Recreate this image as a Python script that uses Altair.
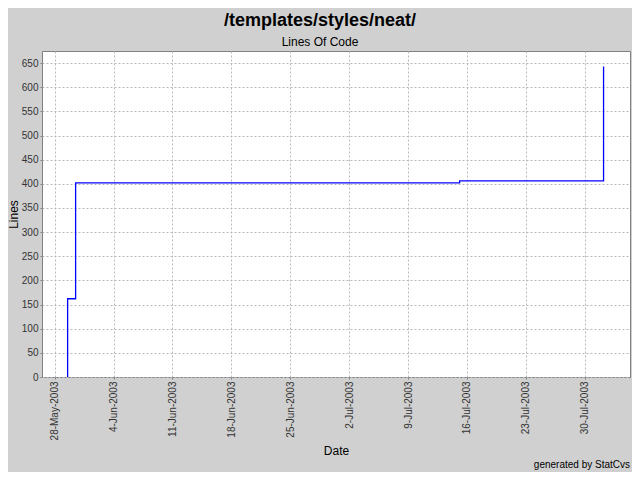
import altair as alt
import pandas as pd

# Data (step line of lines of code)
dates = ["2003-05-29T13:05:00", "2003-05-29T13:05:00", "2003-05-30T11:53:00",
         "2003-07-15T03:00:00", "2003-08-01T05:30:00"]
lines_of_code = [0, 162, 402, 406, 643]
step_order = [0, 1, 2, 3, 4]

# Weekly tick dates (month, day)
tick_months = [5, 6, 6, 6, 6, 7, 7, 7, 7, 7]
tick_days = [28, 4, 11, 18, 25, 2, 9, 16, 23, 30]
y_ticks = list(range(0, 651, 50))

title_text = "/templates/styles/neat/"
subtitle_text = "Lines Of Code"
credit_text = ["generated by  StatCvs"]

FONT = "Liberation Sans"

df = pd.DataFrame({"date": dates, "lines": lines_of_code, "idx": step_order})

tick_values = [alt.DateTime(year=2003, month=m, date=d) for m, d in zip(tick_months, tick_days)]

line = alt.Chart(df).mark_line(
    interpolate="step-after", color="#0000ff", strokeWidth=1.3, clip=True
).encode(
    x=alt.X(
        "date:T",
        title="Date",
        scale=alt.Scale(domain=[alt.DateTime(year=2003, month=5, date=26, hours=12),
                                alt.DateTime(year=2003, month=8, date=4, hours=8, minutes=53)]),
        axis=alt.Axis(values=tick_values, format="%-d-%b-%Y", labelAngle=-90,
                      labelPadding=2, titlePadding=6),
    ),
    y=alt.Y(
        "lines:Q",
        title="Lines",
        scale=alt.Scale(domain=[0, 675], nice=False, zero=True),
        axis=alt.Axis(values=y_ticks, labelPadding=2, titlePadding=1),
    ),
    order=alt.Order("idx:Q"),
)

credit = alt.Chart(pd.DataFrame({"t": credit_text})).mark_text(
    align="right", baseline="middle", fontSize=10, font=FONT, color="#000000"
).encode(
    x=alt.value(588), y=alt.value(414), text="t:N"
)

chart = alt.layer(line, credit).properties(
    width=588,
    height=326,
    title=alt.TitleParams(
        text=title_text,
        subtitle=subtitle_text,
        font=FONT,
        fontSize=18,
        fontWeight="bold",
        color="#000000",
        subtitleFont=FONT,
        subtitleFontSize=12,
        subtitleColor="#000000",
        anchor="middle",
        frame="group",
        dx=-16,
        offset=3,
        subtitlePadding=7,
    ),
    background="#d0d0d0",
    padding={"left": 34, "top": 43, "right": 2, "bottom": 95},
    autosize=alt.AutoSizeParams(type="none"),
).configure_view(
    fill="#ffffff", stroke="#808080", strokeWidth=1
).configure_axis(
    domain=False,
    grid=True,
    gridColor="#b8b8b8",
    gridDash=[2, 2],
    gridWidth=1,
    tickColor="#808080",
    tickSize=2,
    labelFont=FONT,
    labelFontSize=10,
    labelColor="#333333",
    titleFont=FONT,
    titleFontSize=12,
    titleFontWeight="normal",
    titleColor="#000000",
)

chart.save("out.html", embed_options={"renderer": "svg", "actions": False})
